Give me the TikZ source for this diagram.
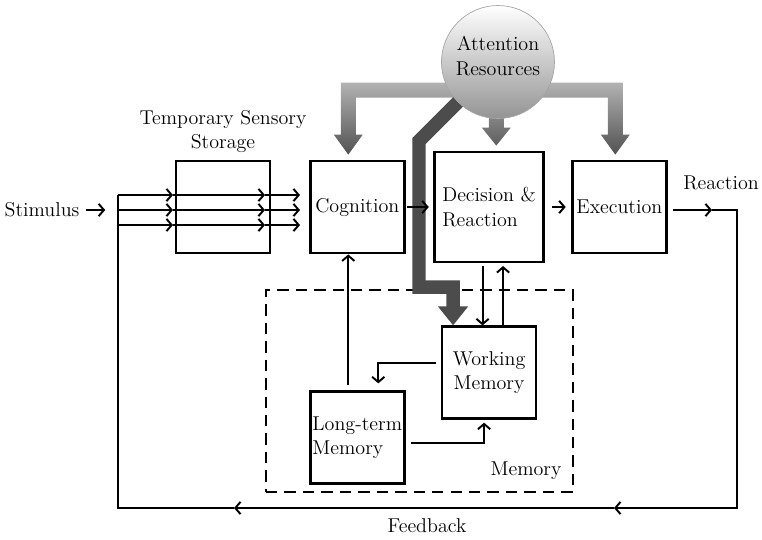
\documentclass[tikz,border=0pt]{standalone}
\usetikzlibrary{positioning, arrows.meta}

\begin{document}
\begin{tikzpicture}[x=0.02cm, y=-0.02cm, line width=1.1pt,
		font=\fontsize{11.4}{14}\selectfont,
		>={Straight Barb[length=3pt,width=7pt]},
		blk/.style={draw, line width=1.6pt, minimum width=1.88cm, minimum height=1.84cm, inner sep=1pt, align=center},
		memb/.style={draw, line width=1.6pt, dash pattern=on 6.5pt off 4pt, minimum width=6.14cm, minimum height=4.04cm},
		attn/.style={top color=black!30, bottom color=black!68},
		res/.style={circle, minimum size=2.26cm, inner sep=0pt, text depth=2.4mm, top color=white, bottom color=black!42, draw=black!35, thin, align=center},
		wmflow/.style={line width=2.7mm, black!70, line join=miter, -{Triangle[length=3.8mm,width=5.8mm]}}]
		\useasboundingbox (0,0) rectangle (762,539);

		\node [blk] (tss) at (223,207) {};
		\node [blk, right=0.75cm of tss] (cog) {Cognition};
		\node [blk, right=0.55cm of cog, minimum width=2.18cm, minimum height=2.2cm, align=left] (dec) {Decision \&\\Reaction};
		\node [blk, right=0.52cm of dec] (exe) {Execution};
		\node [blk, below=1.24cm of dec] (wm) {Working\\Memory};
		\node [blk, below=2.72cm of cog, align=left] (ltm) {Long-term\\Memory};
		\node [memb] (mem) at (419.5,391) {};

		% attention resources
		\coordinate (ac) at (498,62);
		\coordinate (ctip) at ([xshift=-1.8mm, yshift=1mm]cog.north);
		\shade[attn] (ctip) -- ++(-14.5,-20) -- ++(7,0) -- ++(0,-52) -- ++(282,0) -- ++(0,52) -- ++(7,0)
			-- ++(-14.5,20) -- ++(-14.5,-20) -- ++(7,0) -- ++(0,-37) -- ++(-104,0) -- ++(0,30) -- ++(7,0)
			-- ++(-14.5,18) -- ++(-14.5,-18) -- ++(7,0) -- ++(0,-30) -- ++(-133,0) -- ++(0,37) -- ++(7,0) -- cycle;
		\draw[wmflow] (ac) -- ++(-79,79) -- ++(0,146) -| ([xshift=-7.2mm]wm.north);
		\node [res] (att) at (ac) {Attention\\Resources};

		\node [above=0pt of tss, align=center] (tsl) {Temporary Sensory\\Storage};
		\node (stim) at (42,210) {Stimulus};
		\node (reac) at (721,183) {Reaction};
		\node (fb) at (427,526) {Feedback};
		\node (meml) at (526,471) {Memory};

		% stimulus and feedback loop
		\coordinate (ra) at (712,210);
		\coordinate (rt) at (737,210);
		\coordinate (rb) at (737,508);
		\coordinate (fa) at (614,508);
		\coordinate (fc) at (234,508);
		\coordinate (lb) at (118,508);
		\coordinate (lt) at (118,195);
		\draw[->] (stim.east) -- ++(19,0);
		\draw[->, shorten <=1mm] (exe.east |- ra) -- (ra);
		\draw[->] (ra) -- (rt) -- (rb) -- (fa);
		\draw[->] (fa) -- (fc);
		\draw (fc) -- (lb) -- (lt);
		\foreach \y in {195,210,225} {
			\draw[->] (118,\y) -- (173,\y);
			\draw[->] (173,\y) -- (265,\y);
			\draw[->] (265,\y) -- (300,\y);
		}

		% between the boxes
		\coordinate (d1) at ([xshift=-1.3mm]dec.south);
		\coordinate (w1) at ([xshift=2.8mm]wm.north);
		\coordinate (l1) at ([xshift=-1.8mm, yshift=1mm]ltm.north);
		\draw[->, shorten <=1pt, shorten >=2.5pt] (cog) -- (dec);
		\draw[->, shorten <=4pt, shorten >=3pt] (dec) -- (exe);
		\draw[->, shorten <=1.5pt] (d1) -- (d1 |- wm.north);
		\draw[->, shorten >=1.5pt] (w1) -- (w1 |- dec.south);
		\draw[->] (l1) -- (l1 |- cog.south);
		\draw[->] ([xshift=-1mm, yshift=1.9mm]wm.west) -| ([xshift=4.2mm, yshift=1.4mm]ltm.north);
		\draw[->] ([xshift=1mm, yshift=-1.1mm]ltm.east) -| ([xshift=-1mm, yshift=-0.5mm]wm.south);
	\end{tikzpicture}
\end{document}
